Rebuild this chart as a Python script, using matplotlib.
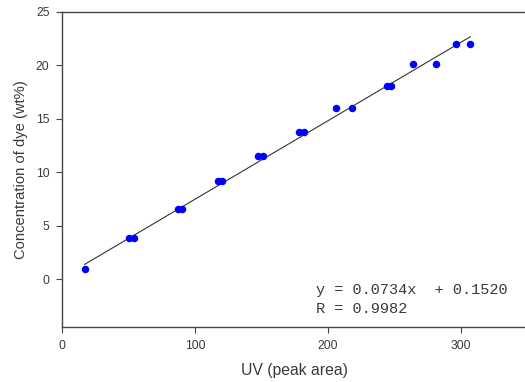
import matplotlib
matplotlib.use("Agg")
import matplotlib.pyplot as plt
import numpy as np

# data
uv_area = [17, 50, 54, 87, 90, 117, 120, 147, 151, 178, 182,
           206, 218, 244, 247, 264, 281, 296, 307]
conc = [1.0, 3.9, 3.9, 6.6, 6.6, 9.2, 9.2, 11.5, 11.5, 13.8, 13.8,
        16.0, 16.0, 18.1, 18.1, 20.1, 20.1, 22.0, 22.0]

slope = 0.0734
intercept = 0.1520
r_value = 0.9982

x_ticks = [0, 100, 200, 300]
y_ticks = [0, 5, 10, 15, 20, 25]

text_col = "#3a3a3a"

fig = plt.figure(figsize=(5.25, 3.82), dpi=100)
ax = fig.add_axes([0.1181, 0.1427, 0.8867, 0.826])

# fit line
fx = np.array([min(uv_area), max(uv_area)])
ax.plot(fx, slope * fx + intercept, color="#333333", lw=0.8, zorder=2)

# points
ax.plot(uv_area, conc, "o", color="#0000ff", markersize=5.4,
        markeredgewidth=0, zorder=3)

ax.set_xlim(0, 350)
ax.set_ylim(-4.5, 25)
ax.set_xticks(x_ticks)
ax.set_yticks(y_ticks)

for side in ["left", "bottom", "top"]:
    ax.spines[side].set_color("#444444")
    ax.spines[side].set_linewidth(1.0)
ax.spines["right"].set_visible(False)

ax.tick_params(axis="both", direction="out", length=4, width=0.8,
               color="#444444", labelcolor=text_col, labelsize=8.7,
               pad=5)
for lab in ax.get_xticklabels() + ax.get_yticklabels():
    lab.set_family("Liberation Sans")

ax.set_xlabel("UV (peak area)", family="Liberation Sans", fontsize=11.3,
              color=text_col, labelpad=8)
ax.set_ylabel("Concentration of dye (wt%)", family="Liberation Sans",
              fontsize=10.6, color=text_col, labelpad=6)

ax.text(0.545, 0.12, "y = %.4fx  + %.4f" % (slope, intercept),
        transform=ax.transAxes, family="Liberation Mono", fontsize=11,
        color=text_col, va="center")
ax.text(0.545, 0.06, "R = %.4f" % r_value,
        transform=ax.transAxes, family="Liberation Mono", fontsize=11,
        color=text_col, va="center")

fig.savefig("out.png", dpi=100)
